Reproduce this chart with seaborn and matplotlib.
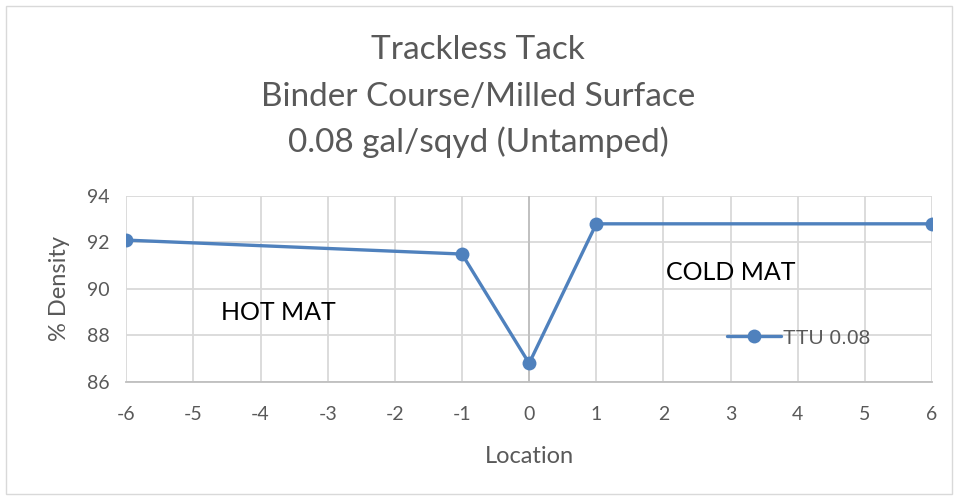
import pandas as pd
import matplotlib
matplotlib.use("Agg")
import matplotlib.pyplot as plt
import seaborn as sns

# data
location = [-6, -1, 0, 1, 6]
density = [92.1, 91.5, 86.8, 92.8, 92.8]
series_name = "TTU 0.08"
title_lines = ["Trackless Tack", "Binder Course/Milled Surface", "0.08 gal/sqyd (Untamped)"]

df = pd.DataFrame({"Location": location, "% Density": density, "series": series_name})

sns.set_theme(style="white")
plt.rcParams["font.family"] = ["Lato", "DejaVu Sans"]
plt.rcParams["axes.unicode_minus"] = False

fig = plt.figure(figsize=(9.56, 4.96), dpi=100)
ax = fig.add_axes([0.132, 0.230, 0.843, 0.375])

blue = "#4F81BD"
sns.lineplot(data=df, x="Location", y="% Density", hue="series", palette=[blue],
             marker="o", markersize=10, linewidth=2.4, markeredgewidth=0, ax=ax)

ax.set_xlim(-6, 6)
ax.set_ylim(86, 94)
ax.set_xticks(range(-6, 7))
ax.set_yticks(range(86, 95, 2))
ax.grid(True, color="#d9d9d9", linewidth=1.3)
ax.set_axisbelow(True)
for s in ["top", "right", "left"]:
    ax.spines[s].set_visible(False)
ax.spines["bottom"].set_color("#bfbfbf")
ax.spines["bottom"].set_linewidth(1.3)
ax.axvline(0, color="#bfbfbf", linewidth=1.3, zorder=1)
ax.tick_params(axis="x", length=0, labelsize=14, labelcolor="#595959", pad=17)
ax.tick_params(axis="y", length=0, labelsize=14, labelcolor="#595959", pad=12)

ax.set_xlabel("Location", fontsize=17, color="#595959", labelpad=17)
ax.set_ylabel("% Density", fontsize=17, color="#595959", labelpad=12)

ax.text(-3.74, 89.0, "HOT MAT", fontsize=18, color="black", ha="center", va="center")
ax.text(3.0, 90.7, "COLD MAT", fontsize=18, color="black", ha="center", va="center")

leg = ax.legend(loc="center", bbox_to_anchor=(0.834, 0.236), frameon=False, fontsize=15,
                handlelength=2.6, handletextpad=0.1, title=None)
for t in leg.get_texts():
    t.set_color("#595959")
    t.set_family(["Liberation Sans", "DejaVu Sans"])

title_y = [50, 97, 142]
for line, y in zip(title_lines, title_y):
    fig.text(0.5, 1 - y / 496, line, ha="center", va="center", fontsize=24, color="#595959")

# thin outer border like the chart area
fig.patches.append(plt.Rectangle((0.006, 0.004), 0.99, 0.983, transform=fig.transFigure,
                                 fill=False, edgecolor="#d9d9d9", linewidth=1))

fig.savefig("out.png", dpi=100)
